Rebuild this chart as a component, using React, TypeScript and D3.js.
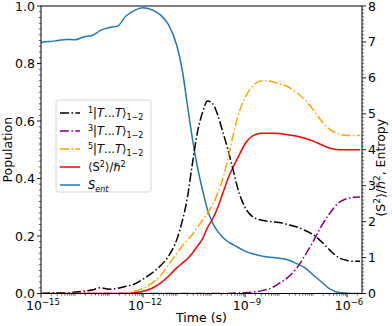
import { useRef, useEffect } from 'react';
import * as d3 from 'd3';

const W = 392;
const H = 326;
const MARGIN = { top: 6, right: 30, bottom: 32.5, left: 41 };

// log10(time / s)
const logTime = [
  -15, -14.75, -14.5, -14.25, -14, -13.75, -13.5, -13.25, -13, -12.75, -12.5, -12.25,
  -12, -11.75, -11.5, -11.25, -11, -10.85, -10.7, -10.55, -10.4, -10.25, -10.1, -9.95,
  -9.8, -9.65, -9.5, -9.35, -9.2, -9, -8.75, -8.5, -8.25, -8, -7.75, -7.5, -7.25, -7,
  -6.75, -6.5, -6.25, -6, -5.8, -5.62,
];

// populations (left axis)
const singlet = [
  0, 0.002, 0.003, 0.002, 0.005, 0.008, 0.012, 0.02, 0.015, 0.018, 0.025, 0.033,
  0.05, 0.07, 0.095, 0.13, 0.19, 0.25, 0.33, 0.45, 0.56, 0.63, 0.67, 0.66,
  0.62, 0.56, 0.5, 0.43, 0.36, 0.3, 0.265, 0.255, 0.25, 0.247, 0.24, 0.232, 0.22, 0.205,
  0.18, 0.15, 0.125, 0.115, 0.112, 0.112,
];
const triplet = [
  0, 0, 0, 0, 0, 0, 0, 0, 0, 0, 0, 0,
  0, 0, 0, 0, 0, 0, 0, 0, 0, 0, 0, 0,
  0, 0, 0, 0.001, 0.002, 0.003, 0.005, 0.01, 0.018, 0.035, 0.055, 0.085, 0.13, 0.18,
  0.235, 0.28, 0.315, 0.33, 0.335, 0.336,
];
const quintet = [
  0, 0, 0, 0, 0, 0, 0, 0, 0, 0, 0.001, 0.008,
  0.018, 0.035, 0.06, 0.1, 0.14, 0.165, 0.185, 0.205, 0.23, 0.255, 0.28, 0.31,
  0.35, 0.4, 0.47, 0.55, 0.62, 0.68, 0.725, 0.74, 0.738, 0.73, 0.72, 0.7, 0.675, 0.64,
  0.6, 0.57, 0.555, 0.55, 0.55, 0.55,
];

// right axis
const spinSq = [
  0, 0, 0, 0, 0, 0, 0, 0, 0, 0, 0, 0.02,
  0.06, 0.14, 0.28, 0.48, 0.72, 0.84, 0.96, 1.12, 1.32, 1.52, 1.84, 2.08,
  2.4, 2.8, 3.2, 3.52, 3.8, 4.16, 4.4, 4.46, 4.46, 4.45, 4.42, 4.38, 4.32, 4.24,
  4.14, 4.04, 4.0, 4.0, 4.0, 4.0,
];
const entropy = [
  6.99, 7.01, 7.04, 7.07, 7.06, 7.14, 7.18, 7.32, 7.4, 7.44, 7.72, 7.88,
  7.95, 7.9, 7.76, 7.48, 6.88, 6.24, 5.28, 4.32, 3.52, 2.88, 2.32, 1.96,
  1.72, 1.56, 1.44, 1.36, 1.28, 1.18, 1.1, 1.04, 1.01, 0.98, 0.94, 0.84, 0.72, 0.52,
  0.32, 0.12, 0.03, 0.01, 0, 0,
];

const xTickExps = [-15, -12, -9, -6];
const xDomain = [1e-15, Math.pow(10, -5.56)];

const DASHDOT = '9,2.5,1.5,2.5';
const FONT = 'DejaVu Sans, sans-serif';

export default function App() {
  const svgRef = useRef<SVGSVGElement>(null);

  useEffect(() => {
    document.body.style.margin = '0';
    const svg = d3.select(svgRef.current);
    svg.selectAll('*').remove();

    const w = W - MARGIN.left - MARGIN.right;
    const h = H - MARGIN.top - MARGIN.bottom;
    const g = svg.append('g').attr('transform', `translate(${MARGIN.left},${MARGIN.top})`);

    const x = d3.scaleLog().domain(xDomain).range([0, w]);
    const yL = d3.scaleLinear().domain([0, 1]).range([h, 0]);
    const yR = d3.scaleLinear().domain([0, 8]).range([h, 0]);
    const times = logTime.map(e => Math.pow(10, e));

    const clip = svg.append('defs').append('clipPath').attr('id', 'plotclip');
    clip.append('rect').attr('width', w).attr('height', h);

    const plot = g.append('g').attr('clip-path', 'url(#plotclip)');
    const series = [
      { vals: entropy, y: yR, color: '#1f77b4', dash: null },
      { vals: spinSq, y: yR, color: '#ff0000', dash: null },
      { vals: singlet, y: yL, color: '#000000', dash: DASHDOT },
      { vals: triplet, y: yL, color: '#800080', dash: DASHDOT },
      { vals: quintet, y: yL, color: '#ffa500', dash: DASHDOT },
    ];
    series.forEach(s => {
      const line = d3.line<number>()
        .x((_, i) => x(times[i]))
        .y(d => s.y(d))
        .curve(d3.curveMonotoneX);
      plot.append('path').datum(s.vals)
        .attr('d', line)
        .attr('fill', 'none')
        .attr('stroke', s.color)
        .attr('stroke-width', 1.5)
        .attr('stroke-dasharray', s.dash);
    });

    // frame
    g.append('rect').attr('width', w).attr('height', h)
      .attr('fill', 'none').attr('stroke', '#000').attr('stroke-width', 1);

    // x ticks
    const xa = g.append('g').attr('transform', `translate(0,${h})`);
    for (let e = -15; e <= -6; e++) {
      for (let m = 1; m <= 9; m++) {
        const v = m * Math.pow(10, e);
        if (v > xDomain[1]) continue;
        const major = m === 1 && xTickExps.includes(e);
        xa.append('line').attr('x1', x(v)).attr('x2', x(v))
          .attr('y1', 0).attr('y2', major ? 4 : 2.2)
          .attr('stroke', '#000').attr('stroke-width', major ? 0.9 : 0.6);
      }
    }
    xTickExps.forEach(e => {
      const t = xa.append('text').attr('x', x(Math.pow(10, e)) + 2).attr('y', 16)
        .attr('text-anchor', 'middle').attr('font-family', FONT).attr('font-size', 12.5);
      t.append('tspan').text('10');
      t.append('tspan').attr('dy', -5).attr('font-size', 8.5).text(`\u2212${-e}`);
    });
    g.append('text').attr('x', w / 2).attr('y', h + 28.5)
      .attr('text-anchor', 'middle').attr('font-family', FONT).attr('font-size', 12.5)
      .text('Time (s)');

    // left y
    const ya = g.append('g');
    d3.range(0, 1.0001, 0.02).forEach((v, i) => {
      const major = i % 10 === 0;
      ya.append('line').attr('x1', major ? -4 : -2.2).attr('x2', 0)
        .attr('y1', yL(v)).attr('y2', yL(v))
        .attr('stroke', '#000').attr('stroke-width', major ? 0.9 : 0.6);
    });
    d3.range(0, 1.0001, 0.2).forEach(v => {
      ya.append('text').attr('x', -6).attr('y', yL(v)).attr('dy', '0.36em')
        .attr('text-anchor', 'end').attr('font-family', FONT).attr('font-size', 12.5)
        .text(d3.format('.1f')(v));
    });
    g.append('text').attr('transform', `translate(-29.5,${h / 2}) rotate(-90)`)
      .attr('text-anchor', 'middle').attr('font-family', FONT).attr('font-size', 12.5)
      .text('Population');

    // right y
    const ra = g.append('g').attr('transform', `translate(${w},0)`);
    d3.range(0, 8.0001, 0.1).forEach((v, i) => {
      const major = i % 10 === 0;
      ra.append('line').attr('x1', 0).attr('x2', major ? 4 : 2.2)
        .attr('y1', yR(v)).attr('y2', yR(v))
        .attr('stroke', '#000').attr('stroke-width', major ? 0.9 : 0.5);
    });
    d3.range(0, 9).forEach(v => {
      ra.append('text').attr('x', 6).attr('y', yR(v)).attr('dy', '0.36em')
        .attr('font-family', FONT).attr('font-size', 12.5).text(v);
    });
    const rl = ra.append('text').attr('transform', `translate(23,${h / 2 + 18}) rotate(-90)`)
      .attr('text-anchor', 'middle').attr('font-family', FONT).attr('font-size', 12.5);
    rl.append('tspan').text('\u27e8S');
    rl.append('tspan').attr('dy', -5).attr('font-size', 9).text('2');
    rl.append('tspan').attr('dy', 5).text('\u27e9/\u210f');
    rl.append('tspan').attr('dy', -5).attr('font-size', 9).text('2');
    rl.append('tspan').attr('dy', 5).text(', Entropy');

    // legend
    const lg = g.append('g').attr('transform', `translate(${56 - MARGIN.left},${100 - MARGIN.top})`);
    lg.append('rect').attr('width', 95).attr('height', 92).attr('rx', 2.5)
      .attr('fill', '#fff').attr('fill-opacity', 0.8)
      .attr('stroke', '#cccccc').attr('stroke-width', 0.8);
    const entries = [
      { color: '#000000', dash: DASHDOT, sup: '1' },
      { color: '#800080', dash: DASHDOT, sup: '3' },
      { color: '#ffa500', dash: DASHDOT, sup: '5' },
      { color: '#ff0000', dash: null, sup: null },
      { color: '#1f77b4', dash: null, sup: null },
    ];
    entries.forEach((en, i) => {
      const row = lg.append('g').attr('transform', `translate(0,${13 + i * 18})`);
      row.append('line').attr('x1', 4).attr('x2', 24).attr('y1', 0).attr('y2', 0)
        .attr('stroke', en.color).attr('stroke-width', 1.5)
        .attr('stroke-dasharray', en.dash);
      const t = row.append('text').attr('x', 32).attr('y', 4)
        .attr('font-family', FONT).attr('font-size', 11.5);
      if (en.sup) {
        t.append('tspan').attr('dy', -4).attr('font-size', 8).text(en.sup);
        t.append('tspan').attr('dy', 4).text('|');
        t.append('tspan').attr('font-style', 'italic').text('T');
        t.append('tspan').text('...');
        t.append('tspan').attr('font-style', 'italic').text('T');
        t.append('tspan').text('\u27e9');
        t.append('tspan').attr('dy', 3).attr('font-size', 8).text('1\u22122');
      } else if (i === 3) {
        t.append('tspan').text('\u27e8S');
        t.append('tspan').attr('dy', -4).attr('font-size', 8).text('2');
        t.append('tspan').attr('dy', 4).text('\u27e9/\u210f');
        t.append('tspan').attr('dy', -4).attr('font-size', 8).text('2');
      } else {
        t.append('tspan').attr('font-style', 'italic').text('S');
        t.append('tspan').attr('dy', 3).attr('font-size', 8).attr('font-style', 'italic').text('ent');
      }
    });
  }, []);

  return <svg ref={svgRef} width={W} height={H} style={{ display: 'block' }} />;
}
